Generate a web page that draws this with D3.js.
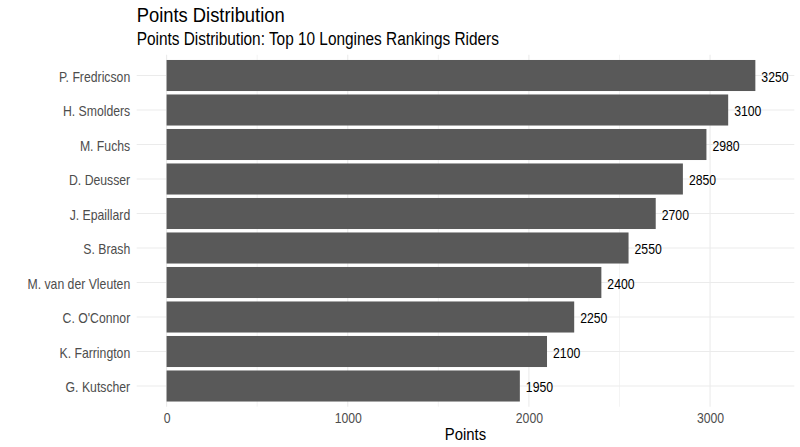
<!DOCTYPE html>
<html>
<head>
<meta charset="utf-8">
<script src="https://cdn.jsdelivr.net/npm/d3@7"></script>
<style>
  body { margin: 0; background: #fff; }
  text { font-family: "Liberation Sans", Arial, sans-serif; }
</style>
</head>
<body>
<div id="chart"></div>
<script>
var riders = ["P. Fredricson", "H. Smolders", "M. Fuchs", "D. Deusser", "J. Epaillard",
              "S. Brash", "M. van der Vleuten", "C. O'Connor", "K. Farrington", "G. Kutscher"];
var points = [3250, 3100, 2980, 2850, 2700, 2550, 2400, 2250, 2100, 1950];
var xTicks = [0, 1000, 2000, 3000];
var xMinor = [500, 1500, 2500];

var width = 800, height = 447;
var margin = { top: 54.8, right: 5.7, bottom: 40.3, left: 136.7 };
var squeeze = 0.875; // the reference font runs narrow

var svg = d3.select("#chart")
    .append("svg")
    .attr("width", width)
    .attr("height", height);

var x = d3.scaleLinear()
    .domain([-165, 3465])
    .range([margin.left, width - margin.right]);

var y = d3.scaleBand()
    .domain(riders)
    .range([margin.top, height - margin.bottom])
    .paddingInner(0.1)
    .paddingOuter(0.15);

function place(px, py) {
    return "translate(" + px + "," + py + ") scale(" + squeeze + ",1)";
}

// grid lines
var grid = svg.append("g");
grid.selectAll("line.minor")
    .data(xMinor)
    .enter()
    .append("line")
    .attr("x1", function (d) { return x(d); })
    .attr("x2", function (d) { return x(d); })
    .attr("y1", margin.top)
    .attr("y2", height - margin.bottom)
    .attr("stroke", "#ebebeb")
    .attr("stroke-width", 0.6);
grid.selectAll("line.major")
    .data(xTicks)
    .enter()
    .append("line")
    .attr("x1", function (d) { return x(d); })
    .attr("x2", function (d) { return x(d); })
    .attr("y1", margin.top)
    .attr("y2", height - margin.bottom)
    .attr("stroke", "#ebebeb")
    .attr("stroke-width", 1.1);
grid.selectAll("line.ymajor")
    .data(riders)
    .enter()
    .append("line")
    .attr("x1", margin.left)
    .attr("x2", width - margin.right)
    .attr("y1", function (d) { return y(d) + y.bandwidth() / 2; })
    .attr("y2", function (d) { return y(d) + y.bandwidth() / 2; })
    .attr("stroke", "#ebebeb")
    .attr("stroke-width", 1.1);

// bars
svg.selectAll("rect")
    .data(riders)
    .enter()
    .append("rect")
    .attr("x", x(0))
    .attr("y", function (d) { return y(d); })
    .attr("width", function (d, i) { return x(points[i]) - x(0); })
    .attr("height", y.bandwidth())
    .attr("fill", "#595959");

// value labels
svg.selectAll("text.val")
    .data(riders)
    .enter()
    .append("text")
    .attr("class", "val")
    .attr("transform", function (d, i) {
        return place(x(points[i]) + 6, y(d) + y.bandwidth() / 2);
    })
    .attr("dy", "0.44em")
    .attr("font-size", 14)
    .attr("fill", "#000")
    .text(function (d, i) { return points[i]; });

// axes
var xAxis = svg.append("g")
    .attr("transform", "translate(0," + (height - margin.bottom) + ")")
    .call(d3.axisBottom(x).tickValues(xTicks).tickSize(0).tickPadding(6).tickFormat(d3.format("d")));
xAxis.select(".domain").remove();
xAxis.selectAll("text")
    .attr("transform", "scale(" + squeeze + ",1)")
    .attr("font-size", 14)
    .attr("font-family", "Liberation Sans, Arial, sans-serif")
    .attr("fill", "#4d4d4d");

var yAxis = svg.append("g")
    .attr("transform", "translate(" + margin.left + ",0)")
    .call(d3.axisLeft(y).tickSize(0).tickPadding(6.5));
yAxis.select(".domain").remove();
yAxis.selectAll("text")
    .attr("x", -6.5 / squeeze)
    .attr("dy", "0.44em")
    .attr("transform", "scale(" + squeeze + ",1)")
    .attr("font-size", 14)
    .attr("font-family", "Liberation Sans, Arial, sans-serif")
    .attr("fill", "#4d4d4d");

// titles
svg.append("text")
    .attr("transform", place((margin.left + width - margin.right) / 2, 440))
    .attr("text-anchor", "middle")
    .attr("font-size", 17)
    .text("Points");

svg.append("text")
    .attr("transform", place(margin.left, 22.3))
    .attr("font-size", 21)
    .text("Points Distribution");

svg.append("text")
    .attr("transform", place(margin.left, 45))
    .attr("font-size", 17.6)
    .text("Points Distribution: Top 10 Longines Rankings Riders");
</script>
</body>
</html>
